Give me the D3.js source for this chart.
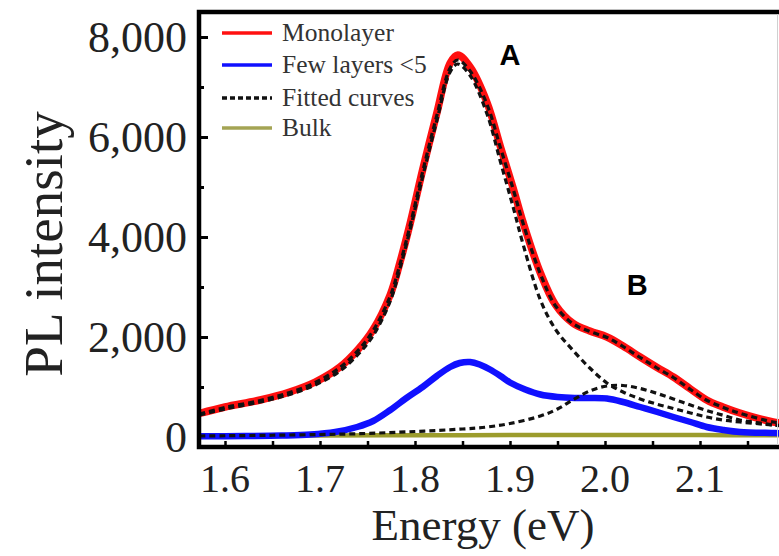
<!DOCTYPE html>
<html><head><meta charset="utf-8">
<script src="https://cdn.jsdelivr.net/npm/d3@7/dist/d3.min.js"></script>
<style>html,body{margin:0;padding:0;background:#fff;}svg{display:block;}</style>
</head><body>
<svg id="chart" width="779" height="556"></svg>
<script>
// ---- data ----
const monoE = [1.573,1.600,1.637,1.668,1.695,1.721,1.740,1.756,1.774,1.784,1.795,1.808,1.823,1.837,1.845,1.858,1.876,1.890,1.903,1.914,1.932,1.948,1.966,1.984,2.002,2.019,2.037,2.054,2.072,2.090,2.107,2.124,2.142,2.177,2.186];
const monoI = [470,600,740,900,1100,1400,1750,2150,2850,3480,4280,5340,6480,7480,7640,7400,6680,5800,5000,4280,3280,2640,2280,2120,2000,1820,1600,1400,1200,960,740,600,480,300,280];

const fitTotalI = [460,590,730,890,1090,1390,1730,2130,2820,3440,4240,5300,6430,7380,7540,7320,6640,5780,4980,4260,3260,2620,2270,2110,1990,1810,1590,1390,1190,950,735,595,475,300,280];

const fitAE = [1.573,1.600,1.637,1.668,1.695,1.721,1.740,1.756,1.774,1.784,1.795,1.808,1.823,1.837,1.845,1.858,1.876,1.890,1.903,1.914,1.932,1.948,1.966,1.984,2.002,2.019,2.037,2.054,2.072,2.090,2.107,2.124,2.142,2.177,2.186];
const fitAI = [440,560,700,850,1040,1320,1650,2030,2720,3360,4160,5200,6330,7300,7460,7230,6450,5500,4620,3840,2740,2150,1740,1380,1080,900,760,660,570,480,400,340,300,240,230];

const fitBE = [1.573,1.600,1.650,1.700,1.739,1.800,1.850,1.876,1.900,1.932,1.950,1.966,1.985,2.002,2.019,2.037,2.055,2.072,2.090,2.107,2.125,2.142,2.160,2.177,2.186];
const fitBI = [20,25,35,50,65,110,160,200,270,420,560,740,930,1020,1030,970,870,760,640,530,430,340,290,240,225];

const fewE = [1.573,1.620,1.660,1.690,1.716,1.739,1.756,1.774,1.791,1.808,1.823,1.837,1.847,1.858,1.868,1.879,1.890,1.900,1.916,1.932,1.950,1.968,1.984,2.002,2.019,2.037,2.055,2.072,2.090,2.107,2.125,2.142,2.177,2.186];
const fewI = [15,20,30,50,100,200,320,540,780,1000,1220,1400,1480,1500,1450,1350,1220,1090,950,850,800,780,780,770,700,600,500,400,300,200,140,100,80,75];

const bulkE = [1.573,1.700,1.800,1.900,2.000,2.100,2.186];
const bulkI = [30,32,35,38,40,38,35];

const xTickValues = [1.6,1.7,1.8,1.9,2.0,2.1];
const xTickLabels = ["1.6","1.7","1.8","1.9","2.0","2.1"];
const xMinorTicks = [1.6,1.65,1.7,1.75,1.8,1.85,1.9,1.95,2.0,2.05,2.1,2.15];
const yTickValues = [0,2000,4000,6000,8000];
const yTickLabels = ["0","2,000","4,000","6,000","8,000"];
const yMinorTicks = [1000,3000,5000,7000];

const legendLabels = ["Monolayer","Few layers <5","Fitted curves","Bulk"];
const peakLabels = ["A","B"];

// ---- drawing ----
const svg = d3.select("#chart");
const frame = {left:199, top:12, bottom:447, right:781};
const x = d3.scaleLinear().domain([1.6,2.1]).range([225,700]);
const y = d3.scaleLinear().domain([0,8000]).range([437,37]);

svg.append("defs").append("clipPath").attr("id","clip")
  .append("rect").attr("x",frame.left).attr("y",frame.top)
  .attr("width",frame.right-frame.left).attr("height",frame.bottom-frame.top);

const g = svg.append("g").attr("clip-path","url(#clip)");
const line = d3.line().x(d=>x(d[0])).y(d=>y(d[1])).curve(d3.curveCatmullRom.alpha(0.5));
const zip = (a,b)=>a.map((v,i)=>[v,b[i]]);

g.append("path").datum(zip(bulkE,bulkI)).attr("d",line)
  .attr("fill","none").attr("stroke","#9c9c2c").attr("stroke-width",4.5);
g.append("path").datum(zip(fewE,fewI)).attr("d",line)
  .attr("fill","none").attr("stroke","#1010ff").attr("stroke-width",6.5);
g.append("path").datum(zip(monoE,monoI)).attr("d",line)
  .attr("fill","none").attr("stroke","#ff1010").attr("stroke-width",7.5);
const dashStyle = sel => sel.attr("fill","none").attr("stroke","#111")
  .attr("stroke-width",3.2).attr("stroke-dasharray","6,4");
g.append("path").datum(zip(monoE,fitTotalI)).attr("d",line).call(dashStyle);
g.append("path").datum(zip(fitAE,fitAI)).attr("d",line).call(dashStyle);
g.append("path").datum(zip(fitBE,fitBI)).attr("d",line).call(dashStyle);

// axes (inward ticks)
const xAxisMinor = d3.axisTop(x).tickValues(xMinorTicks).tickSize(6).tickFormat("");
svg.append("g").attr("transform",`translate(0,${frame.bottom})`).call(xAxisMinor)
  .call(s=>{s.select(".domain").remove(); s.selectAll("line").attr("stroke","#000").attr("stroke-width",2.5);});
const yAxisMajor = d3.axisRight(y).tickValues(yTickValues.slice(1)).tickSize(9).tickFormat("");
svg.append("g").attr("transform",`translate(${frame.left},0)`).call(yAxisMajor)
  .call(s=>{s.select(".domain").remove(); s.selectAll("line").attr("stroke","#000").attr("stroke-width",3);});
const yAxisMinor = d3.axisRight(y).tickValues(yMinorTicks).tickSize(5).tickFormat("");
svg.append("g").attr("transform",`translate(${frame.left},0)`).call(yAxisMinor)
  .call(s=>{s.select(".domain").remove(); s.selectAll("line").attr("stroke","#000").attr("stroke-width",3);});

// frame
svg.append("path")
  .attr("d",`M${frame.right},${frame.top}H${frame.left}V${frame.bottom}H${frame.right}`)
  .attr("fill","none").attr("stroke","#000").attr("stroke-width",4.5);
svg.append("line").attr("x1",777.5).attr("x2",777.5).attr("y1",frame.top+2).attr("y2",frame.bottom-2)
  .attr("stroke","#d0d0d0").attr("stroke-width",1);

// tick labels
const serif = "'Liberation Serif','Times New Roman',serif";
svg.append("g").selectAll("text").data(xTickValues).join("text")
  .attr("x",d=>x(d)).attr("y",492).attr("text-anchor","middle")
  .attr("font-family",serif).attr("font-size",40).attr("fill","#222")
  .text((d,i)=>xTickLabels[i]);
svg.append("g").selectAll("text").data(yTickValues).join("text")
  .attr("x",187).attr("y",d=>y(d)).attr("dy","0.35em").attr("text-anchor","end")
  .attr("font-family",serif).attr("font-size",44).attr("fill","#222")
  .text((d,i)=>yTickLabels[i]);

// axis titles
svg.append("text").attr("x",483).attr("y",540).attr("text-anchor","middle")
  .attr("font-family",serif).attr("font-size",45).attr("fill","#222").text("Energy (eV)");
svg.append("text").attr("transform","translate(62,244) rotate(-90)").attr("text-anchor","middle")
  .attr("font-family",serif).attr("font-size",55).attr("fill","#222").text("PL intensity");

// legend
const legY = [33,65,98,128];
const leg = svg.append("g");
const legStyles = [
  {stroke:"#ff1010",dash:null,w:3.5},
  {stroke:"#1010ff",dash:null,w:3.5},
  {stroke:"#111",dash:"5,3",w:3.5},
  {stroke:"#a4a454",dash:null,w:3.5}];
legendLabels.forEach((lab,i)=>{
  leg.append("line").attr("x1",222).attr("x2",272).attr("y1",legY[i]).attr("y2",legY[i])
    .attr("stroke",legStyles[i].stroke).attr("stroke-width",legStyles[i].w)
    .attr("stroke-dasharray",legStyles[i].dash);
  leg.append("text").attr("x",282).attr("y",legY[i]).attr("dy","0.33em")
    .attr("font-family",serif).attr("font-size",25.5).attr("fill","#333").text(lab);
});

// peak labels
svg.append("text").attr("x",x(1.9)).attr("y",65).attr("text-anchor","middle")
  .attr("font-family","'Liberation Sans',Arial,sans-serif").attr("font-weight","bold")
  .attr("font-size",29).attr("fill","#000").text(peakLabels[0]);
svg.append("text").attr("x",x(2.034)).attr("y",295).attr("text-anchor","middle")
  .attr("font-family","'Liberation Sans',Arial,sans-serif").attr("font-weight","bold")
  .attr("font-size",29).attr("fill","#000").text(peakLabels[1]);
</script>
</body></html>
